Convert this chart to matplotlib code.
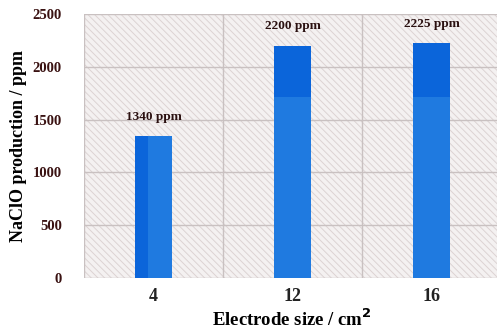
import matplotlib
matplotlib.use("Agg")
import matplotlib.pyplot as plt
import numpy as np

# Data
sizes = ["4", "12", "16"]
naclo_ppm = [1340, 2200, 2225]
value_labels = ["1340 ppm", "2200 ppm", "2225 ppm"]
y_ticks = [0, 500, 1000, 1500, 2000, 2500]

plt.rcParams["font.family"] = ["Liberation Serif", "DejaVu Serif"]
plt.rcParams["hatch.linewidth"] = 0.7
plt.rcParams["hatch.color"] = "#dcd3d3"

fig = plt.figure(figsize=(4.97, 3.31), dpi=100)
ax = fig.add_axes([84 / 497, 53 / 331, 417 / 497, 264 / 331])

# hatched plot background
ax.patch.set_facecolor("#f4f1f1")
ax.patch.set_hatch("\\\\\\\\\\")
ax.patch.set_edgecolor("#dcd3d3")

x = np.arange(len(sizes))
width = 0.27
light = "#1f7ae0"
dark = "#0b65da"

ax.bar(x, naclo_ppm, width=width, color=light, zorder=3)
# darker shading on the bars
ax.bar(x[0] - width / 2, naclo_ppm[0], width=width * 0.35, align="edge",
       color=dark, zorder=3.5)
for xi, v in zip(x[1:], naclo_ppm[1:]):
    ax.bar(xi, v - 1710, bottom=1710, width=width, color=dark, zorder=3.5)

for xi, v, lab in zip(x, naclo_ppm, value_labels):
    ax.annotate(lab, (xi, v), xytext=(0, 14), textcoords="offset points",
                ha="center", va="center", fontsize=9.5, color="#2a1010",
                fontweight="bold", zorder=5)

ax.set_xlim(-0.5, 2.5)
ax.set_ylim(0, 2500)
ax.set_yticks(y_ticks)
ax.set_yticklabels([str(t) for t in y_ticks], fontsize=10.5, fontweight="bold",
                   color="#3a1212")
ax.set_xticks(x)
ax.set_xticklabels(sizes, fontsize=13, fontweight="bold", color="#222222")
ax.set_xticks([-0.5, 0.5, 1.5, 2.5], minor=True)
ax.tick_params(which="both", length=0)
ax.tick_params(axis="y", pad=16)
ax.tick_params(axis="x", pad=7)

ax.grid(axis="y", which="major", color="#c9c1c1", lw=1, zorder=1)
ax.grid(axis="x", which="minor", color="#c9c1c1", lw=1, zorder=1)
ax.grid(axis="x", which="major", visible=False)
for s in ax.spines.values():
    s.set_visible(False)

ax.set_ylabel("NaClO production / ppm", fontsize=13, fontweight="bold")
ax.yaxis.set_label_coords(-(84 - 27) / 417, 0.5)
ax.set_xlabel("Electrode size / cm$^\\mathbf{2}$", fontsize=13.5,
              fontweight="bold")
ax.xaxis.set_label_coords((292 - 84) / 417, -(308 - 278) / 264)

fig.savefig("out.png", dpi=100)
